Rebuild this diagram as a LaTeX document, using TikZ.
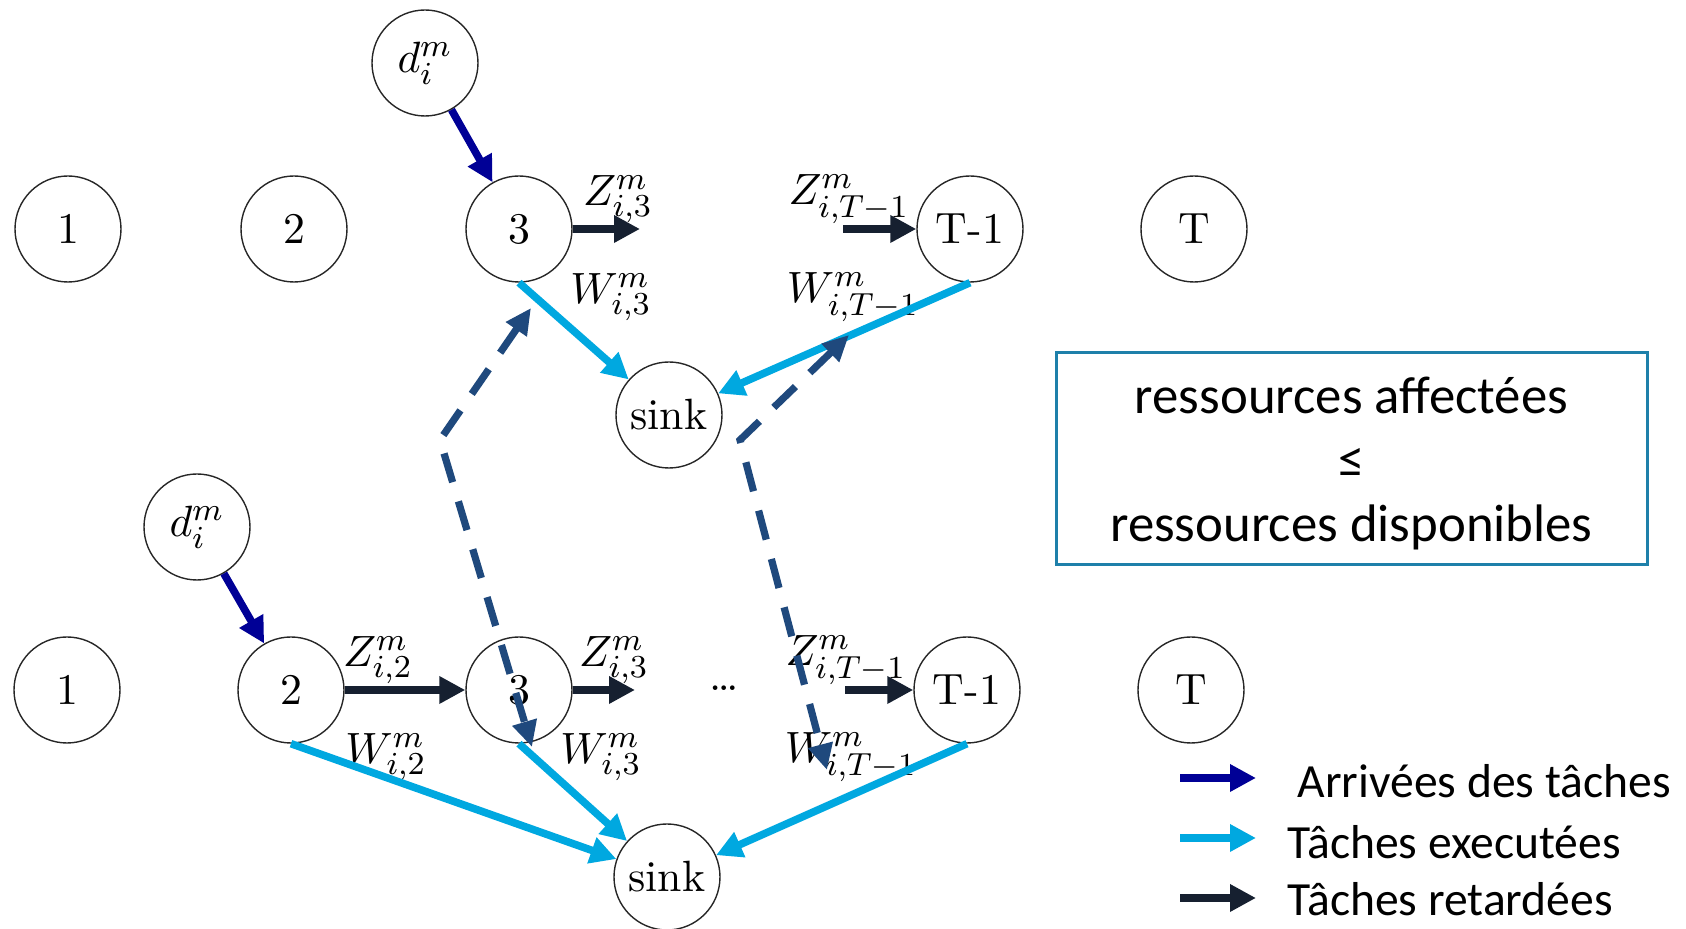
\documentclass[tikz,border=0pt]{standalone}
\usepackage{fontspec}
\newfontfamily\calibri{Carlito}
\usetikzlibrary{arrows.meta}
\definecolor{arrivecol}{RGB}{0,0,150}
\definecolor{execcol}{RGB}{0,168,224}
\definecolor{delaycol}{RGB}{22,32,48}
\definecolor{movecol}{RGB}{31,73,125}
\definecolor{boxcol}{RGB}{30,128,170}
\tikzset{
  state/.style={circle, draw=black!85, line width=0.35pt, minimum size=26.5pt,
    inner sep=0pt, font=\fontsize{10.95}{13}\selectfont},
  lbl/.style={inner sep=0pt, font=\fontsize{10.95}{13}\selectfont},
  tip/.style={-{Triangle[length=6.5pt,width=6.5pt]}},
  arrive/.style={tip, line width=1.9pt, draw=arrivecol},
  exec/.style={tip, line width=1.9pt, draw=execcol},
  delay/.style={tip, line width=2.1pt, draw=delaycol},
  move/.style={{Triangle[length=6.5pt,width=6pt]}-{Triangle[length=6.5pt,width=6pt]},
    line width=1.8pt, draw=movecol, dash pattern=on 7.5pt off 5pt},
  legtext/.style={anchor=base west, inner sep=0pt, font=\calibri\fontsize{11.9}{14}\selectfont},
}
\begin{document}
\begin{tikzpicture}[x=0.25pt,y=-0.25pt]
\useasboundingbox (0,0) rectangle (1686,929);

% ---- upper network ----
\node[state] (t1)  at (68,229)  {1};
\node[state] (t2)  at (294,229) {2};
\node[state] (t3)  at (519,229) {3};
\node[state] (tT1) at (970,229) {T-1};
\node[state] (tT)  at (1194,229) {T};
\node[state] (td)  at (425,63)  {$d_i^m$};
\node[state] (ts)  at (669,415) {sink};

\node[lbl] (tz3) at (618,199) {$Z_{i,3}^m$};
\node[lbl] (tw3) at (611,297) {$W_{i,3}^m$};
\node[lbl] (tzT) at (849,199) {$Z_{i,T-1}^m$};
\node[lbl] (twT) at (853,297) {$W_{i,T-1}^m$};

\coordinate (tz3end) at (640,229);
\coordinate (tzTbeg) at (843,229);

\draw[arrive] (td) -- (t3);
\draw[delay] (t3.east) -- (tz3end);
\draw[delay] (tzTbeg) -- (tT1.west);
\draw[exec] (t3.south) -- (ts);
\draw[exec] (tT1.south) -- (ts);

% ---- lower network ----
\node[state] (b1)  at (67,690)  {1};
\node[state] (b2)  at (291,690) {2};
\node[state] (b3)  at (519,690) {3};
\node[state] (bT1) at (967,690) {T-1};
\node[state] (bT)  at (1191,690) {T};
\node[state] (bd)  at (197,527) {$d_i^m$};
\node[state] (bs)  at (667,877) {sink};

\node[lbl] (bz2) at (378,660) {$Z_{i,2}^m$};
\node[lbl] (bw2) at (386,757) {$W_{i,2}^m$};
\node[lbl] (bz3) at (614,660) {$Z_{i,3}^m$};
\node[lbl] (bw3) at (601,757) {$W_{i,3}^m$};
\node[lbl] (bzT) at (846,660) {$Z_{i,T-1}^m$};
\node[lbl] (bwT) at (851,757) {$W_{i,T-1}^m$};
\node[lbl] (dots) at (724,688) {\ldots};

\coordinate (bz3end) at (635,690);
\coordinate (bzTbeg) at (845,690);

\draw[arrive] (bd) -- (b2);
\draw[delay] (b2.east) -- (b3.west);
\draw[delay] (b3.east) -- (bz3end);
\draw[delay] (bzTbeg) -- (bT1.west);
\draw[exec] (b2.south) -- (bs);
\draw[exec] (b3.south) -- (bs);
\draw[exec] (bT1.south) -- (bs);

% ---- links between the two periods ----
\coordinate (ml1) at (531,308);
\coordinate (ml2) at (440,440);
\coordinate (ml3) at (532,747);
\coordinate (mr1) at (849,335);
\coordinate (mr2) at (740,440);
\coordinate (mr3) at (827,770);
\draw[move] (ml1) -- (ml2) -- (ml3);
\draw[move] (mr1) -- (mr2) -- (mr3);

% ---- constraint box ----
\node[draw=boxcol, line width=0.75pt, minimum width=147.75pt, minimum height=53pt,
      inner sep=0pt] (box) at (1351.5,459) {};
\node[align=center, inner sep=0pt, font=\calibri\fontsize{13.2}{16}\selectfont]
  (boxtext) at (1351.5,464) {ressources affectées\\ ≤\\ ressources disponibles};

% ---- legend ----
\coordinate (la1) at (1180,778); \coordinate (lb1) at (1256,778);
\coordinate (la2) at (1180,838); \coordinate (lb2) at (1256,838);
\coordinate (la3) at (1180,898); \coordinate (lb3) at (1256,898);
\draw[arrive, line width=2.1pt] (la1) -- (lb1);
\draw[exec, line width=2.1pt] (la2) -- (lb2);
\draw[delay, line width=2.1pt] (la3) -- (lb3);
\node[legtext] (lt1) at (1297,798) {Arrivées des tâches};
\node[legtext] (lt2) at (1287,859) {Tâches executées};
\node[legtext] (lt3) at (1287,916) {Tâches retardées};
\end{tikzpicture}
\end{document}
